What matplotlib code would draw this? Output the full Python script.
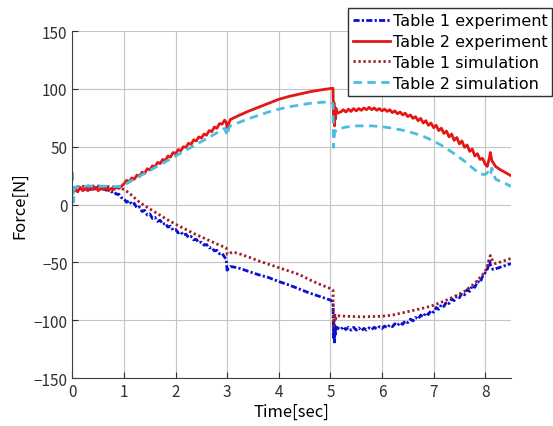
import matplotlib
matplotlib.use("Agg")
import matplotlib.pyplot as plt

plt.rcParams['font.family'] = ['Noto Sans CJK JP', 'DejaVu Sans']

# === Data ===
# Table 2 experiment (red solid)
t2e_t = [0, 0.05, 0.1, 0.15, 0.2, 0.25, 0.3, 0.35, 0.4, 0.45, 0.5, 0.55, 0.6, 0.65, 0.7, 0.75, 0.8, 0.85, 0.9, 0.95,
         1.0, 1.05, 1.1, 1.15, 1.2, 1.25, 1.3, 1.35, 1.4, 1.45, 1.5, 1.55, 1.6, 1.65, 1.7, 1.75, 1.8, 1.85, 1.9, 1.95,
         2.0, 2.05, 2.1, 2.15, 2.2, 2.25, 2.3, 2.35, 2.4, 2.45, 2.5, 2.55, 2.6, 2.65, 2.7, 2.75, 2.8, 2.85, 2.9, 2.95,
         2.98, 3.0, 3.03, 3.06, 3.2, 3.4, 3.6, 3.8, 4.0, 4.2, 4.4, 4.6, 4.8, 5.0, 5.05,
         5.06, 5.07, 5.08, 5.09, 5.1, 5.11, 5.12,
         5.2, 5.25, 5.3, 5.35, 5.4, 5.45, 5.5, 5.55, 5.6, 5.65, 5.7, 5.75, 5.8, 5.85, 5.9, 5.95,
         6.0, 6.05, 6.1, 6.15, 6.2, 6.25, 6.3, 6.35, 6.4, 6.45, 6.5, 6.55, 6.6, 6.65, 6.7, 6.75, 6.8, 6.85, 6.9, 6.95,
         7.0, 7.05, 7.1, 7.15, 7.2, 7.25, 7.3, 7.35, 7.4, 7.45, 7.5, 7.55, 7.6, 7.65, 7.7, 7.75, 7.8, 7.85, 7.9, 7.95,
         8.0, 8.04, 8.08, 8.1, 8.13, 8.2, 8.3, 8.4, 8.5]
t2e_f = [10, 14, 11, 15, 12, 14, 12, 15, 13, 15, 12, 14, 13, 15, 12, 14, 13, 15, 14, 16,
         18, 21, 19.5, 23, 22, 25.5, 24.5, 28, 27, 31, 30, 33.5, 32.5, 36.5, 35.5, 39, 38, 42, 41, 45,
         44, 47.5, 46.5, 50, 49.5, 53, 52, 56, 55, 58.5, 57.5, 61, 60, 64, 63, 67, 66, 70, 69.5, 73,
         71, 66.5, 70, 73.5, 76.5, 80.5, 84, 87.5, 91, 93.5, 95.5, 97.5, 99, 100.3, 100.5,
         75, 88, 68, 84, 74, 83, 79,
         80, 82, 80, 82.5, 80.5, 83, 81, 83, 81.5, 83.5, 82, 84, 82, 83.5, 81.5, 83,
         81, 82.5, 80.5, 82, 79.5, 81, 78.5, 80, 77.5, 79, 76, 77.5, 74.5, 76, 72.5, 74.5, 70.5, 72.5, 68.5, 70.5,
         66.5, 68.5, 64, 66, 61.5, 63.5, 58.5, 61, 55.5, 58, 52.5, 55, 49.5, 51.5, 46, 48, 42, 44, 39, 40,
         35, 33, 40, 45, 38, 33, 30, 27.5, 25]

# Table 2 simulation (light blue dashed)
t2s_t = [0, 0.02, 0.04, 0.1, 0.3, 0.5, 0.7, 0.9, 1.0, 1.2, 1.4, 1.6, 1.8, 2.0, 2.2, 2.4, 2.6, 2.8, 2.95,
         3.0, 3.03, 3.06, 3.2, 3.4, 3.6, 3.8, 4.0, 4.2, 4.4, 4.6, 4.8, 5.0, 5.05,
         5.06, 5.08, 5.12, 5.3, 5.5, 5.8, 6.0, 6.2, 6.4, 6.6, 6.8, 7.0, 7.2, 7.4, 7.6, 7.8, 7.9,
         8.0, 8.05, 8.1, 8.13, 8.2, 8.3, 8.4, 8.5]
t2s_f = [28, 2, 15, 15.5, 16, 16, 15.8, 15.5, 17, 22, 27, 32, 37, 42, 47, 52, 57, 62, 66,
         59.5, 66, 68, 70.5, 74, 77, 80, 82.5, 84.5, 86, 87.5, 88.3, 88.8, 87,
         49.5, 62, 65, 67, 68, 68, 67.3, 66, 64.3, 62, 59, 55, 50, 44, 37.5, 30, 26.5,
         26, 28, 25, 31.5, 22, 20, 18, 15.7]

# Table 1 experiment (blue dash-dot)
t1e_t = [0, 0.05, 0.1, 0.15, 0.2, 0.3, 0.35, 0.4, 0.45, 0.5, 0.55, 0.6, 0.65, 0.7, 0.75, 0.8, 0.85, 0.9, 0.95,
         1.0, 1.05, 1.1, 1.15, 1.2, 1.25, 1.3, 1.35, 1.4, 1.45, 1.5, 1.55, 1.6, 1.65, 1.7, 1.75, 1.8, 1.85, 1.9, 1.95,
         2.0, 2.05, 2.1, 2.15, 2.2, 2.25, 2.3, 2.35, 2.4, 2.45, 2.5, 2.55, 2.6, 2.65, 2.7, 2.75, 2.8, 2.85, 2.9, 2.95,
         2.98, 3.0, 3.02, 3.06, 3.2, 3.4, 3.6, 3.8, 4.0, 4.2, 4.4, 4.6, 4.8, 5.0, 5.05,
         5.06, 5.07, 5.08, 5.09, 5.1, 5.12,
         5.2, 5.25, 5.3, 5.35, 5.4, 5.45, 5.5, 5.55, 5.6, 5.65, 5.7, 5.75, 5.8, 5.85, 5.9, 5.95,
         6.0, 6.05, 6.1, 6.15, 6.2, 6.25, 6.3, 6.35, 6.4, 6.45, 6.5, 6.55, 6.6, 6.65, 6.7, 6.75, 6.8, 6.85, 6.9, 6.95,
         7.0, 7.05, 7.1, 7.15, 7.2, 7.25, 7.3, 7.35, 7.4, 7.45, 7.5, 7.55, 7.6, 7.65, 7.7, 7.75, 7.8, 7.85, 7.9, 7.95,
         8.0, 8.05, 8.08, 8.1, 8.15, 8.2, 8.3, 8.4, 8.5]
t1e_f = [12, 13, 11.5, 14, 12.5, 14.5, 13, 15, 13.5, 15, 13.5, 14.5, 12.5, 13, 11, 11.5, 9, 9, 6,
         5, 2, 3.5, 0, 1, -3, -2, -6, -5, -9, -8, -12, -11, -14.5, -13.5, -17, -16, -19.5, -18.5, -22,
         -21.5, -24.5, -23.5, -26.5, -25.5, -28.5, -27.5, -30.5, -30, -33, -32.5, -35, -34.5, -37.5, -37, -40, -39.5, -42.5, -42, -45.5,
         -47, -58, -55, -53.5, -54.5, -57.5, -60.5, -63, -66.5, -69.5, -73, -76.5, -79.5, -82.5, -84,
         -115, -100, -120, -104, -112, -106,
         -108, -105.5, -108, -106, -108.5, -106, -108.5, -106.5, -109, -107, -108.5, -106.5, -108, -106, -107.5, -105.5,
         -107, -105, -106.5, -104, -105.5, -103, -104.5, -102, -103.5, -100.5, -102, -99, -100.5, -97.5, -99, -95.5, -97, -93.5, -95, -91.5,
         -93, -89, -90.5, -86.5, -88, -84, -85.5, -81.5, -83, -79, -80.5, -76.5, -78, -73.5, -75, -70, -71.5, -66.5, -67.5, -62,
         -59, -55, -47, -52, -56, -55.5, -54, -52.5, -51]

# Table 1 simulation (dark red dotted)
t1s_t = [0, 0.1, 0.3, 0.5, 0.7, 0.9, 1.0, 1.1, 1.2, 1.3, 1.4, 1.6, 1.8, 2.0, 2.2, 2.4, 2.6, 2.8, 2.98,
         3.0, 3.03, 3.1, 3.2, 3.4, 3.6, 3.8, 4.0, 4.2, 4.4, 4.6, 4.8, 5.0, 5.05,
         5.06, 5.08, 5.1, 5.12, 5.3, 5.6, 6.0, 6.2, 6.4, 6.6, 6.8, 7.0, 7.2, 7.4, 7.6, 7.8,
         8.0, 8.05, 8.1, 8.15, 8.2, 8.3, 8.4, 8.5]
t1s_f = [14, 15.5, 16, 16, 15.5, 14.8, 13, 10, 6, 2, -1, -6.5, -12, -17, -21.5, -26, -30, -34, -37.5,
         -43, -42.5, -41, -42, -45, -48.5, -51.5, -54.5, -57.5, -60.5, -65, -69, -72.5, -74,
         -105, -94, -99, -96, -96.5, -97, -96.5, -95.5, -93.5, -91.5, -89.5, -87, -83.5, -79.5, -75, -68,
         -58, -52, -44, -49, -51, -49.5, -48, -46.5]

xticks = [0, 1, 2, 3, 4, 5, 6, 7, 8]
yticks = [-150, -100, -50, 0, 50, 100, 150]

# === Plot ===
fig = plt.figure(figsize=(5.53, 4.27), dpi=100)
ax = fig.add_axes([0.131, 0.112, 0.793, 0.813])

ax.plot(t1e_t, t1e_f, color='#0a10d0', linestyle=(0, (2.2, 0.8, 0.8, 0.8)), lw=2, label='Table 1 experiment')
ax.plot(t2e_t, t2e_f, color='#e41616', linestyle='-', lw=2, label='Table 2 experiment')
ax.plot(t1s_t, t1s_f, color='#9c1c24', linestyle=(0, (0.8, 1.0)), lw=2, label='Table 1 simulation')
ax.plot(t2s_t, t2s_f, color='#4cbce0', linestyle=(0, (3, 2)), lw=2, label='Table 2 simulation')

ax.set_xlim(0, 8.5)
ax.set_ylim(-150, 150)
ax.set_xticks(xticks)
ax.set_yticks(yticks)
ax.grid(True, color='#c4c4c4', lw=0.8)
ax.set_axisbelow(True)
ax.spines['top'].set_visible(False)
ax.spines['right'].set_visible(False)
ax.spines['left'].set_color('#404040')
ax.spines['bottom'].set_color('#404040')
ax.tick_params(direction='in', labelsize=11, colors='#303030', length=4)
ax.set_xlabel('Time[sec]', fontsize=12, labelpad=2)
ax.set_ylabel('Force[N]', fontsize=12, labelpad=4)

leg = ax.legend(loc='upper right', bbox_to_anchor=(0.999, 0.978), bbox_transform=fig.transFigure,
                borderaxespad=0, prop={'family': 'DejaVu Sans', 'size': 11.5},
                handlelength=2.3, handletextpad=0.2,
                labelspacing=0.37, borderpad=0.3, fancybox=False, framealpha=1)
leg.get_frame().set_edgecolor('#303030')
leg.get_frame().set_linewidth(1)

fig.savefig('out.png', dpi=100)
